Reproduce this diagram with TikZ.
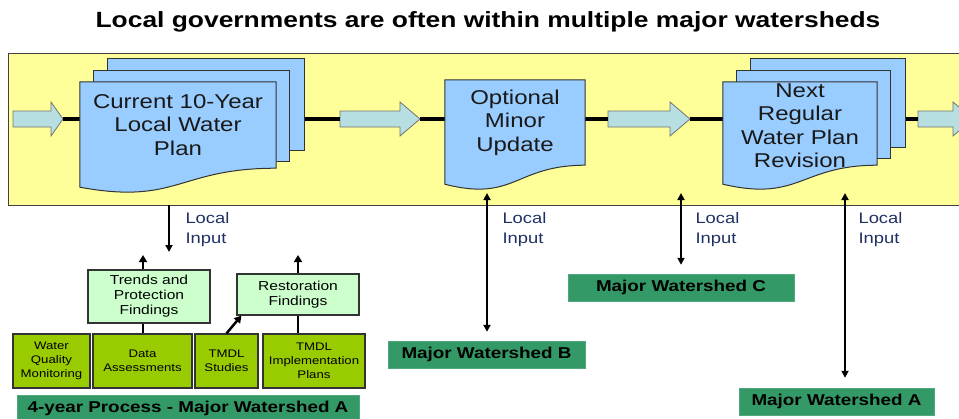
\documentclass[tikz,border=0pt]{standalone}
\usepackage{fontspec}
\setmainfont[FakeStretch=1.2]{Liberation Sans}
\usetikzlibrary{arrows.meta}

\definecolor{bandyellow}{RGB}{255,255,153}
\definecolor{pageblue}{RGB}{153,204,255}
\definecolor{arrowteal}{RGB}{183,222,224}
\definecolor{shedgreen}{RGB}{51,153,102}
\definecolor{stepgreen}{RGB}{153,204,0}
\definecolor{findgreen}{RGB}{204,255,204}
\definecolor{inputnavy}{RGB}{31,48,100}

% plan page with wavy bottom
\newcommand{\docpage}[1]{%
  \draw[page] (#1.north west) -- (#1.north east) -- (#1.south east)
    .. controls (#1.south) and ([yshift=-37pt]#1.south) .. ([yshift=-19pt]#1.south west) -- cycle;}
% two sheets behind a page
\newcommand{\docstack}[1]{%
  \draw[page] ([shift={(28,-23)}]#1.north west) rectangle ([shift={(28,-18)}]#1.south east);
  \draw[page] ([shift={(14,-11)}]#1.north west) rectangle ([shift={(13,-7)}]#1.south east);}
% block arrow: name, tail x, tip x, head length
\newcommand{\blockarrow}[4]{%
  \draw[blockarr] (#2,111) -- (#3-#4,111) -- (#3-#4,102) -- (#3,119)
    -- (#3-#4,136) -- (#3-#4,127) -- (#2,127) -- cycle;
  \coordinate (#1 tail) at (#2,119);
  \coordinate (#1 tip) at (#3,119);}

\begin{document}
\begin{tikzpicture}[x=1pt,y=-1pt,
  page/.style={draw=black!80,fill=pageblue,line width=1pt},
  docarea/.style={rectangle,inner sep=0pt},
  doctext/.style={align=center,text=black!90,font=\fontsize{20}{23.5}\selectfont},
  blockarr/.style={draw=black!55,fill=arrowteal,line width=0.8pt},
  flowline/.style={line width=3.5pt},
  inputarr/.style={line width=2pt,-{Triangle[length=7pt,width=7pt]}},
  inputboth/.style={line width=2pt,{Triangle[length=7pt,width=7pt]}-{Triangle[length=7pt,width=7pt]}},
  inputlabel/.style={anchor=west,align=left,text=inputnavy,font=\fontsize{15.3}{20}\selectfont},
  shedbox/.style={fill=shedgreen,draw=shedgreen!85!white,minimum height=27pt,inner sep=0pt,
    font=\bfseries\fontsize{15.7}{18}\selectfont},
  stepbox/.style={fill=stepgreen,draw=black!80,line width=1.2pt,minimum height=54pt,inner sep=0pt,
    align=center,font=\fontsize{11}{14}\selectfont},
  findbox/.style={fill=findgreen,draw=black!80,line width=1.2pt,inner sep=0pt,
    align=center,font=\fontsize{13}{15}\selectfont},
  stepline/.style={line width=2.5pt},
  steparr/.style={line width=2.5pt,-{Triangle[length=7pt,width=8pt]}}]
\clip (0,0) rectangle (959,418);

\node[font=\bfseries\fontsize{22}{26}\selectfont] (title) at (488,22)
  {Local governments are often within multiple major watersheds};

\node[draw=black!75,line width=1pt,fill=bandyellow,anchor=north west,inner sep=0pt,
  minimum width=970pt,minimum height=152pt] (band) at (8,53) {};

\blockarrow{a1}{13}{63}{12}
\blockarrow{a2}{340}{420}{20}
\blockarrow{a3}{608}{690}{20}
\blockarrow{a4}{918}{973}{20}
\draw[flowline] (a1 tip) -- (a2 tail);
\draw[flowline] (a2 tip) -- (a3 tail);
\draw[flowline] (a3 tip) -- (a4 tail);

\node[docarea,minimum width=196pt,minimum height=86pt] (plan) at (178,125) {};
\docstack{plan}
\docpage{plan}
\node[doctext] (plantext) at (plan) {Current 10-Year\\Local Water\\Plan};

\node[docarea,minimum width=140pt,minimum height=85pt] (minor) at (515,122.5) {};
\docpage{minor}
\node[doctext] (minortext) at (minor) {Optional\\Minor\\Update};

\node[docarea,minimum width=154pt,minimum height=83pt] (nextplan) at (800,123.5) {};
\docstack{nextplan}
\docpage{nextplan}
\node[doctext] (nexttext) at ([yshift=-2pt]nextplan.center) {Next\\Regular\\Water Plan\\Revision};

% watershed labels
\node[shedbox,minimum width=197pt] (wsB) at (486.5,354.5) {Major Watershed B};
\node[shedbox,minimum width=226pt] (wsC) at (681,287.5) {Major Watershed C};
\node[shedbox,minimum width=195pt] (wsA) at (836.5,401.5) {Major Watershed A};
\node[shedbox,minimum width=342pt] (cycleA) at (188,408.5) {4-year Process - Major Watershed A};

% local input
\coordinate (in1) at (169,205);
\coordinate (out1) at (169,252);
\coordinate (upB) at (487,193);
\coordinate (upC) at (681,193);
\coordinate (upA) at (845,193);
\draw[inputarr] (in1) -- (out1);
\draw[inputboth,shorten >=9pt] (upB) -- (upB |- wsB.north);
\draw[inputboth,shorten >=9pt] (upC) -- (upC |- wsC.north);
\draw[inputboth,shorten >=10pt] (upA) -- (upA |- wsA.north);
\node[inputlabel] (lab1) at (182,230) {Local\\Input};
\node[inputlabel] (labB) at (499,230) {Local\\Input};
\node[inputlabel] (labC) at (692,230) {Local\\Input};
\node[inputlabel] (labA) at (855,230) {Local\\Input};

% 4-year process for watershed A
\node[stepbox,minimum width=77pt] (wqm) at (51.5,361) {Water\\Quality\\Monitoring};
\node[stepbox,minimum width=99pt] (dass) at (142.5,361) {Data\\Assessments};
\node[stepbox,minimum width=63pt] (tstud) at (226.5,361) {TMDL\\Studies};
\node[stepbox,minimum width=102pt] (timpl) at (314,361) {TMDL\\Implementation\\Plans};
\node[findbox,minimum width=122pt,minimum height=53pt] (trends) at (149,296.5) {Trends and\\Protection\\Findings};
\node[findbox,minimum width=122pt,minimum height=41pt] (resto) at (298,294.5) {Restoration\\Findings};
\coordinate (upT) at (143,255);
\coordinate (upR) at (298,255);
\draw[stepline] (dass.north -| upT) -- (trends.south -| upT);
\draw[steparr] (trends.north -| upT) -- (upT);
\draw[steparr] (tstud.north) -- ([xshift=5pt]resto.south west);
\draw[stepline] (timpl.north -| resto.south) -- (resto.south);
\draw[steparr] (resto.north) -- (upR);
\end{tikzpicture}
\end{document}
